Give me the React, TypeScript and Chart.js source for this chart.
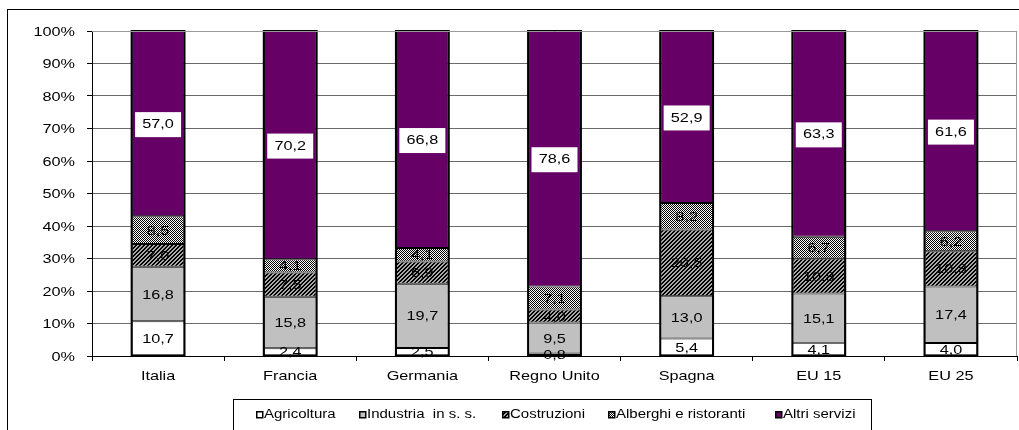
import React, { useEffect, useRef } from "react";
import { Chart, registerables } from "chart.js";

Chart.register(...registerables);

const categories = ["Italia", "Francia", "Germania", "Regno Unito", "Spagna", "EU 15", "EU 25"];
const agricoltura = [10.7, 2.4, 2.5, 0.8, 5.4, 4.1, 4.0];
const industria = [16.8, 15.8, 19.7, 9.5, 13.0, 15.1, 17.4];
const costruzioni = [7.0, 7.5, 6.9, 4.0, 20.5, 10.8, 10.8];
const alberghi = [8.5, 4.1, 4.1, 7.1, 8.2, 6.7, 6.2];
const altriServizi = [57.0, 70.2, 66.8, 78.6, 52.9, 63.3, 61.6];
const seriesNames = ["Agricoltura", "Industria  in s. s.", "Costruzioni", "Alberghi e ristoranti", "Altri servizi"];
const yTicks = [0, 10, 20, 30, 40, 50, 60, 70, 80, 90, 100];

const FONT = "'Liberation Sans', Arial, sans-serif";
const SX = 1.25;

function makePattern(kind: string): CanvasPattern | string {
  const c = document.createElement("canvas");
  c.width = 4;
  c.height = 4;
  const g = c.getContext("2d");
  if (!g) return "#888";
  for (let x = 0; x < 4; x++) {
    for (let y = 0; y < 4; y++) {
      let col = "#000";
      if (kind === "diag") {
        col = (x + y) % 4 < 2 ? "#000000" : "#a8a8a8";
      } else {
        col = (x + y) % 2 === 0 ? "#000000" : "#ffffff";
      }
      g.fillStyle = col;
      g.fillRect(x, y, 1, 1);
    }
  }
  const ctx = document.createElement("canvas").getContext("2d");
  return ctx ? (ctx.createPattern(c, "repeat") as CanvasPattern) : "#888";
}

function drawText(ctx: CanvasRenderingContext2D, text: string, x: number, y: number, align: CanvasTextAlign, size: number) {
  ctx.save();
  ctx.translate(x, y);
  ctx.scale(SX, 1);
  ctx.font = `${size}px ${FONT}`;
  ctx.textAlign = align;
  ctx.textBaseline = "middle";
  ctx.fillStyle = "#000";
  ctx.fillText(text, 0, 0);
  ctx.restore();
}

export default function App() {
  const ref = useRef<HTMLCanvasElement | null>(null);

  useEffect(() => {
    if (!ref.current) return;
    const diag = makePattern("diag");
    const check = makePattern("check");
    const fills: any[] = ["#ffffff", "#c0c0c0", diag, check, "#660066"];
    const data = [agricoltura, industria, costruzioni, alberghi, altriServizi];
    const total = categories.map((_, i) => data.reduce((s, d) => s + d[i], 0));

    const labelPlugin = {
      id: "labels",
      afterDatasetsDraw(chart: any) {
        const ctx = chart.ctx;
        ctx.save();
        // outer outline of each stack
        const first = chart.getDatasetMeta(0).data;
        const last = chart.getDatasetMeta(data.length - 1).data;
        ctx.strokeStyle = "#000";
        ctx.lineWidth = 2;
        first.forEach((el: any, i: number) => {
          const top = last[i].y;
          const bottom = el.base;
          const w = el.width;
          ctx.strokeRect(el.x - w / 2, top, w, bottom - top);
        });
        chart.data.datasets.forEach((_ds: any, di: number) => {
          const meta = chart.getDatasetMeta(di);
          meta.data.forEach((el: any, i: number) => {
            const v = data[di][i];
            const txt = v.toFixed(1).replace(".", ",");
            const cy = (el.y + el.base) / 2 + 1;
            const cx = el.x;
            if (di === 4) {
              ctx.fillStyle = "#ffffff";
              ctx.fillRect(cx - 23, cy - 12.5, 46, 25);
            }
            drawText(ctx, txt, cx, cy, "center", 13);
          });
        });
        ctx.restore();
      },
    };

    const framePlugin = {
      id: "frame",
      beforeDraw(chart: any) {
        const ctx = chart.ctx;
        ctx.save();
        ctx.fillStyle = "#ffffff";
        ctx.fillRect(0, 0, chart.width, chart.height);
        ctx.strokeStyle = "#000000";
        ctx.lineWidth = 1;
        ctx.strokeRect(7.5, 9.5, chart.width + 10, chart.height + 10);
        ctx.restore();
      },
      afterDraw(chart: any) {
        const ctx = chart.ctx;
        const a = chart.chartArea;
        ctx.save();
        // plot border top/right
        ctx.strokeStyle = "#9a9a9a";
        ctx.lineWidth = 1;
        ctx.beginPath();
        ctx.moveTo(a.left, a.top + 0.5);
        ctx.lineTo(a.right - 0.5, a.top + 0.5);
        ctx.lineTo(a.right - 0.5, a.bottom);
        ctx.stroke();
        // axis tick labels
        const ys = chart.scales.y;
        yTicks.forEach((v) => {
          drawText(ctx, `${v}%`, 75, ys.getPixelForValue(v) + 1, "right", 13);
        });
        const xsc = chart.scales.x;
        categories.forEach((c, i) => {
          drawText(ctx, c, xsc.getPixelForValue(i), 376, "center", 13);
        });
        // legend box
        ctx.strokeStyle = "#000000";
        ctx.lineWidth = 1;
        ctx.strokeRect(233.5, 399.5, 638, 40);
        const xs = [256, 359, 502, 608, 775];
        xs.forEach((x, i) => {
          ctx.fillStyle = fills[i];
          ctx.fillRect(x, 411, 7, 7);
          ctx.strokeStyle = "#000";
          ctx.lineWidth = 1.5;
          ctx.strokeRect(x + 0.75, 411.75, 6, 6);
          drawText(ctx, seriesNames[i], x + 8, 415, "left", 12);
        });
        ctx.restore();
      },
    };

    const chart = new Chart(ref.current, {
      type: "bar",
      data: {
        labels: categories,
        datasets: data.map((d, di) => ({
          label: seriesNames[di],
          data: d.map((v, i) => (v / total[i]) * 100),
          backgroundColor: fills[di],
          borderColor: "#000000",
          borderWidth: 1,
          borderSkipped: false,
          barPercentage: 0.4,
          categoryPercentage: 1,
        })),
      },
      options: {
        animation: false,
        responsive: true,
        maintainAspectRatio: false,
        layout: { padding: { top: 31, right: 2, left: 0, bottom: 0 } },
        plugins: { legend: { display: false }, tooltip: { enabled: false } },
        scales: {
          x: {
            stacked: true,
            offset: true,
            grid: {
              display: true,
              drawOnChartArea: false,
              offset: true,
              color: "#000",
              tickLength: 5,
            },
            border: { color: "#000", width: 1 },
            ticks: { display: false },
            afterFit: (s: any) => {
              s.height = 74;
            },
          },
          y: {
            stacked: true,
            min: 0,
            max: 100,
            afterBuildTicks: (s: any) => {
              s.ticks = yTicks.map((v) => ({ value: v }));
            },
            grid: { color: "#6a6a6a", tickLength: 5, tickColor: "#000" },
            border: { color: "#000", width: 1 },
            ticks: { display: false },
            afterFit: (s: any) => {
              s.width = 92;
            },
          },
        },
      },
      plugins: [framePlugin, labelPlugin],
    });
    return () => chart.destroy();
  }, []);

  return (
    <div style={{ position: "fixed", left: 0, top: 0, width: 1019, height: 430 }}>
      <canvas ref={ref} />
    </div>
  );
}
